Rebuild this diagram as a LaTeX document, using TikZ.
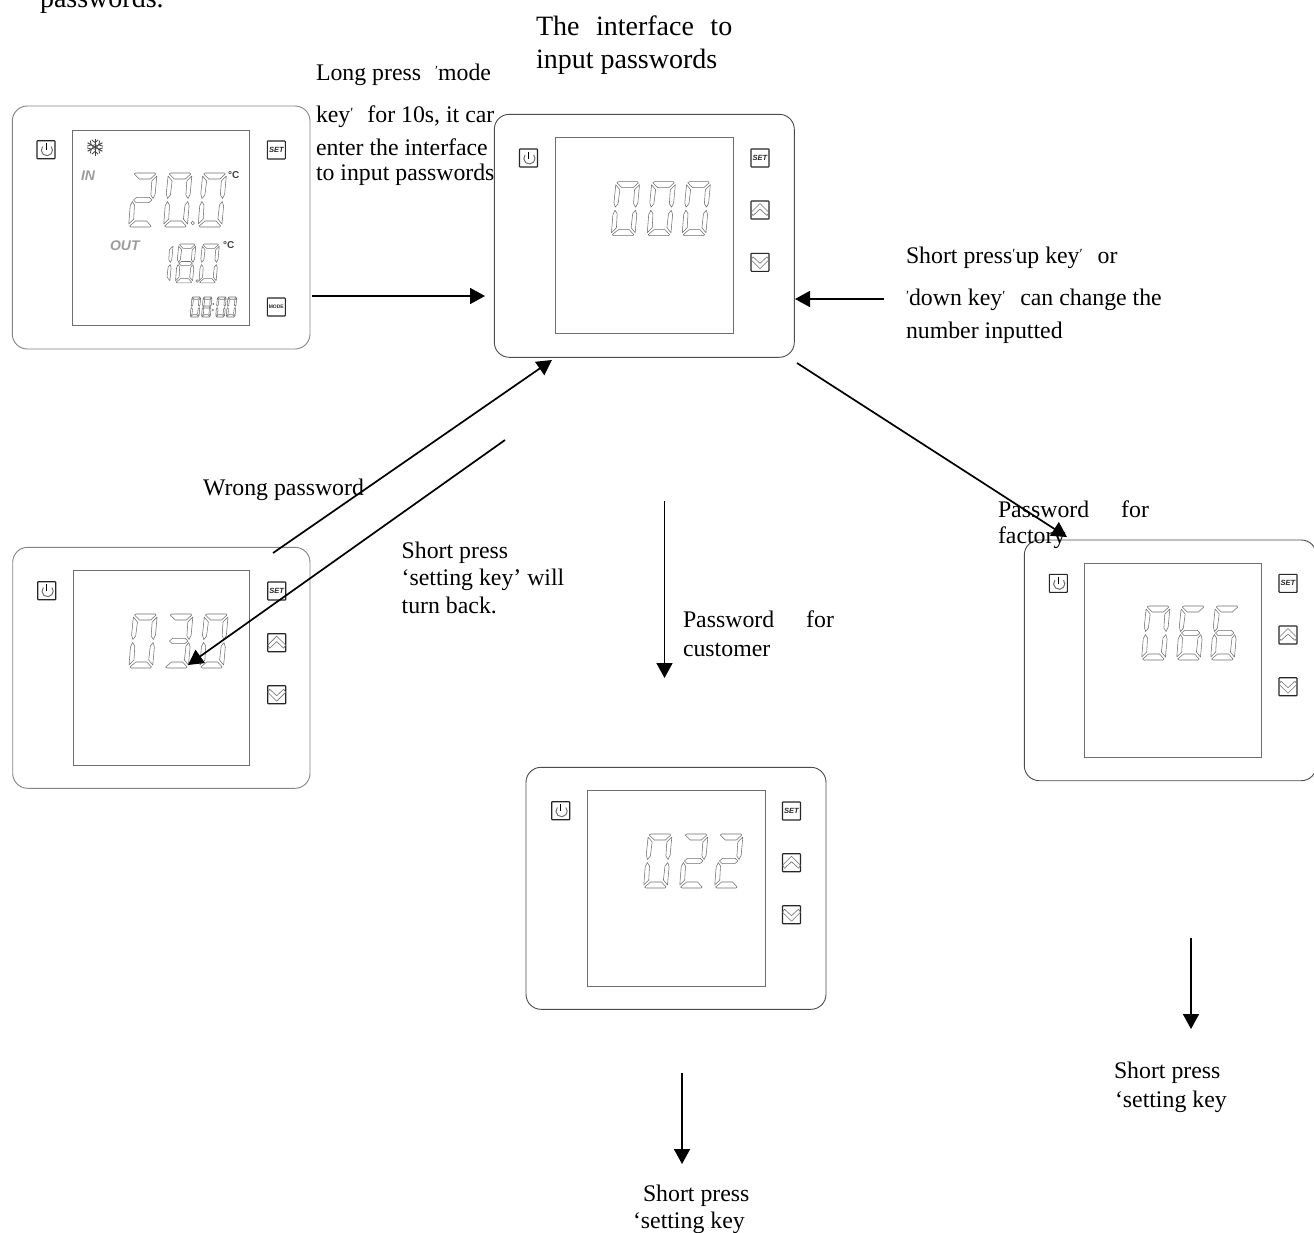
\documentclass[tikz,border=0pt]{standalone}
\usepackage{fontspec}
\setmainfont{Liberation Serif}
\setsansfont{Liberation Sans}
\usetikzlibrary{arrows.meta}
\definecolor{lcdgray}{HTML}{6E6E6E}
\definecolor{seggray}{HTML}{707070}
\newcommand\tick{{\fontsize{14}{14}\selectfont\raisebox{5pt}{′}}}
% seven segments, in a 24 x 54 box
\newcommand\sega{\draw[seg] (3,0)--(22,0)--(23,1)--(18,6)--(7,6)--(1.5,1)--cycle;}
\newcommand\segb{\draw[seg] (24.2,3)--(24.2,21)--(22.5,25.5)--(20,22)--(19.7,8)--cycle;}
\newcommand\segc{\draw[seg] (24.2,51)--(24.2,33)--(22.5,28.5)--(20,32)--(19.7,46)--cycle;}
\newcommand\segd{\draw[seg] (3,54)--(22,54)--(23,53)--(18,48)--(7,48)--(1.5,53)--cycle;}
\newcommand\sege{\draw[seg] (0.5,51)--(0.3,33)--(2,28.5)--(4.5,32)--(5,46)--cycle;}
\newcommand\segf{\draw[seg] (0.5,3)--(0.3,21)--(2,25.5)--(4.5,22)--(5,8)--cycle;}
\newcommand\segg{\draw[seg] (3,27)--(6,24.3)--(18.5,24.3)--(21.5,27)--(18.5,29.7)--(6,29.7)--cycle;}
\newcommand\dzero{\sega\segb\segc\segd\sege\segf}
\newcommand\done{\segb\segc}
\newcommand\dtwo{\sega\segb\segg\sege\segd}
\newcommand\dthree{\sega\segb\segg\segc\segd}
\newcommand\dsix{\sega\segf\segg\sege\segc\segd}
\newcommand\deight{\dzero\segg}
\newcommand\sevendigit[5]{\begin{scope}[shift={({#1+4.86*#3},#2)},xscale=#3,yscale=#4,xslant=.09]#5\end{scope}}
\newcommand\powerkey[3]{\node[keybtn] (#1) at (#2,#3) {};
  \draw[seggray,line width=1pt] (#2-3.4,#3-3.2) arc[start angle=220,delta angle=-260,radius=5.6];
  \draw[black,line width=.9pt] (#2,#3-6.5) -- (#2,#3+.5);}
\newcommand\upkey[3]{\node[keybtn] (#1) at (#2,#3) {};
  \draw[seggray,line width=.6pt,line join=round] (#2-9,#3+2.5) -- (#2,#3-6.5) -- (#2+9,#3+2.5) -- (#2+7,#3+5.5) -- (#2,#3-1) -- (#2-7,#3+5.5) -- cycle;}
\newcommand\downkey[3]{\node[keybtn] (#1) at (#2,#3) {};
  \draw[seggray,line width=.6pt,line join=round] (#2-9,#3-2.5) -- (#2,#3+6.5) -- (#2+9,#3-2.5) -- (#2+7,#3-5.5) -- (#2,#3+1) -- (#2-7,#3-5.5) -- cycle;}
\tikzset{
  x=1pt,y=-1pt,
  lbl/.style={anchor=base west,inner sep=0pt,outer sep=0pt,font=\fontsize{23.8}{28}\selectfont},
  biglbl/.style={lbl,font=\fontsize{28}{32}\selectfont},
  panel/.style={draw=#1,fill=white,line width=.9pt,rounded corners=15pt,anchor=north west,inner sep=0pt,outer sep=0pt},
  lcd/.style={draw=lcdgray,line width=.9pt,anchor=north west,inner sep=0pt,outer sep=0pt},
  seg/.style={draw=seggray,line width=.55pt,line join=round},
  keybtn/.style={draw=black!85,fill=white,line width=1.1pt,rounded corners=.6pt,minimum size=18pt,inner sep=0pt,outer sep=0pt,font=\sffamily\bfseries\itshape\fontsize{7.5}{8}\selectfont,text=black!85},
  lcdtext/.style={inner sep=0pt,outer sep=0pt,text=seggray!70,font=\sffamily\bfseries\itshape\fontsize{14}{14}\selectfont},
  degtext/.style={inner sep=0pt,outer sep=0pt,text=black!75,font=\sffamily\bfseries\fontsize{10}{10}\selectfont},
  conn/.style={draw=black,line width=1.7pt,-{Triangle[length=15pt,width=16pt]}},
}
\begin{document}
\begin{tikzpicture}
\useasboundingbox (0,0) rectangle (1314,1232);
\clip (0,0) rectangle (1314,1232);
% texts that the panels cover in part
\node[biglbl] (tpw) at (40,7) {passwords.};
\node[biglbl] (ttitlea) at (536,35) {The\hspace{16.5pt}interface\hspace{16.5pt}to};
\node[biglbl] (ttitleb) at (536,68) {input passwords};
\node[lbl] (tlonga) at (316,80) {Long press\hspace{14pt}\tick mode};
\node[lbl] (tlongb) at (316,122) {key\tick\hspace{14pt}for 10s, it car};
\node[lbl] (tlongc) at (316,155) {enter the interface};
\node[lbl] (tlongd) at (316,180) {to input passwords};

% panels
\node[panel=lcdgray!85,minimum width=297.7pt,minimum height=243pt] (p1) at (12.3,106) {};
\node[panel=black!70,minimum width=300pt,minimum height=243pt] (p2) at (494.3,114.3) {};
\node[panel=lcdgray!85,minimum width=297.3pt,minimum height=241pt] (p3) at (12.7,547.3) {};
\node[panel=black!70,minimum width=300pt,minimum height=242pt] (p4) at (526,767.3) {};
\node[panel=black!70,minimum width=292pt,minimum height=240.7pt] (p5) at (1024.3,540) {};
% displays
\node[lcd,minimum width=176.6pt,minimum height=195.7pt] (l1) at (72.7,130) {};
\node[lcd,minimum width=178pt,minimum height=196pt] (l2) at (555.3,137.3) {};
\node[lcd,minimum width=176pt,minimum height=194.6pt] (l3) at (73.3,570.7) {};
\node[lcd,minimum width=178.4pt,minimum height=196pt] (l4) at (587.3,790.7) {};
\node[lcd,minimum width=177pt,minimum height=194pt] (l5) at (1084.7,563.3) {};

% keys
\powerkey{k1p}{46}{149.7}
\node[keybtn] (k1s) at (276.3,150) {SET};
\node[keybtn,font=\sffamily\bfseries\fontsize{5}{5}\selectfont] (k1m) at (276.3,307) {MODE};
\powerkey{k2p}{528.5}{158}
\node[keybtn] (k2s) at (760,158) {SET};
\upkey{k2u}{760}{210}
\downkey{k2d}{760}{262.3}
\powerkey{k3p}{46.7}{590.7}
\node[keybtn] (k3s) at (276.7,591) {SET};
\upkey{k3u}{276.7}{642.7}
\downkey{k3d}{276.7}{694.7}
\powerkey{k4p}{560.7}{810.7}
\node[keybtn] (k4s) at (791.5,811) {SET};
\upkey{k4u}{791.5}{862.7}
\downkey{k4d}{791.5}{914.7}
\powerkey{k5p}{1058.3}{583.3}
\node[keybtn] (k5s) at (1288,583.3) {SET};
\upkey{k5u}{1288}{635}
\downkey{k5d}{1288}{686.7}

% panel 1 display
\begin{scope}[shift={(95,147)}]
  \foreach \a in {0,60,...,300}{
    \draw[black!75,line width=1pt,rotate=\a] (0,0) -- (0,-8.5);
    \draw[black!75,line width=.8pt,rotate=\a] (-3.2,-7.2) -- (0,-4.4) -- (3.2,-7.2);
  }
  \draw[black!60,line width=.7pt] (0,0) circle[radius=2.4];
\end{scope}
\node[lcdtext,anchor=west] (tin) at (81,176) {IN};
\node[lcdtext,anchor=west] (tout) at (110,246) {OUT};
\node[degtext,anchor=west] (tc1) at (228,175) {°C};
\node[degtext,anchor=west] (tc2) at (223,245) {°C};
\sevendigit{128}{173}{1}{1}{\dtwo}
\sevendigit{163}{173}{1}{1}{\dzero}
\sevendigit{197.5}{173}{1}{1}{\dzero}
\draw[seg] (192.7,223) circle[radius=1.8];
\sevendigit{152.3}{244}{.72}{.72}{\done}
\sevendigit{175}{244}{.72}{.72}{\deight}
\sevendigit{198.5}{244}{.72}{.72}{\dzero}
\draw[seg] (197.2,281) circle[radius=1.4];
\sevendigit{190}{297}{.37}{.37}{\dzero}
\sevendigit{201.3}{297}{.37}{.37}{\deight}
\sevendigit{215.5}{297}{.37}{.37}{\dzero}
\sevendigit{226}{297}{.37}{.37}{\dzero}
\fill[seggray] (213.3,304) circle[radius=1] (212.8,310) circle[radius=1];

% panel 2 to 5 displays
\sevendigit{610.7}{181.7}{1}{1}{\dzero}
\sevendigit{646.5}{181.7}{1}{1}{\dzero}
\sevendigit{681.5}{181.7}{1}{1}{\dzero}
\sevendigit{128.3}{614}{1}{1}{\dzero}
\sevendigit{164}{614}{1}{1}{\dthree}
\sevendigit{199.2}{614}{1}{1}{\dzero}
\sevendigit{643}{834}{1}{1}{\dzero}
\sevendigit{679}{834}{1}{1}{\dtwo}
\sevendigit{714}{834}{1}{1}{\dtwo}
\sevendigit{1141}{606}{1}{1}{\dzero}
\sevendigit{1176}{606}{1}{1}{\dsix}
\sevendigit{1210}{606}{1}{1}{\dsix}

% remaining labels
\node[lbl] (twrong) at (203,495) {Wrong password};
\node[lbl] (tsba) at (401.7,558) {Short press};
\node[lbl] (tsbb) at (401.7,585) {‘setting key’ will};
\node[lbl] (tsbc) at (401.7,613) {turn back.};
\node[lbl] (tupa) at (906,263) {Short press\tick up key\tick\hspace{15pt}or};
\node[lbl] (tupb) at (906,305) {\tick down key\tick\hspace{15pt}can change the};
\node[lbl] (tupc) at (906,338) {number inputted};
\node[lbl] (tfa) at (998,517) {Password\hspace{32pt}for};
\node[lbl] (tfb) at (998,543) {factory};
\node[lbl] (tca) at (683,627) {Password\hspace{32pt}for};
\node[lbl] (tcb) at (683,656) {customer};
\node[lbl] (tsca) at (643,1201) {Short press};
\node[lbl] (tscb) at (633,1228) {‘setting key};
\node[lbl] (tsfa) at (1114,1078) {Short press};
\node[lbl] (tsfb) at (1115,1107) {‘setting key};

% connectors
\coordinate (a1s) at (312,296); \coordinate (a1e) at (485,296);
\coordinate (a2s) at (884,299); \coordinate (a2e) at (795,299);
\coordinate (a3s) at (273,553); \coordinate (a3e) at (552,360);
\coordinate (a4s) at (505,440); \coordinate (a4e) at (188,665);
\coordinate (a5s) at (797,363); \coordinate (a5e) at (1067,537);
\coordinate (a6s) at (664.5,501); \coordinate (a6e) at (664.5,678);
\coordinate (a7s) at (682,1073); \coordinate (a7e) at (682,1164);
\coordinate (a8s) at (1191,938); \coordinate (a8e) at (1191,1029);
\draw[conn] (a1s) -- (a1e);
\draw[conn] (a2s) -- (a2e);
\draw[conn] (a3s) -- (a3e);
\draw[conn] (a4s) -- (a4e);
\draw[conn] (a5s) -- (a5e);
\draw[conn] (a6s) -- (a6e);
\draw[conn] (a7s) -- (a7e);
\draw[conn] (a8s) -- (a8e);
\end{tikzpicture}
\end{document}
